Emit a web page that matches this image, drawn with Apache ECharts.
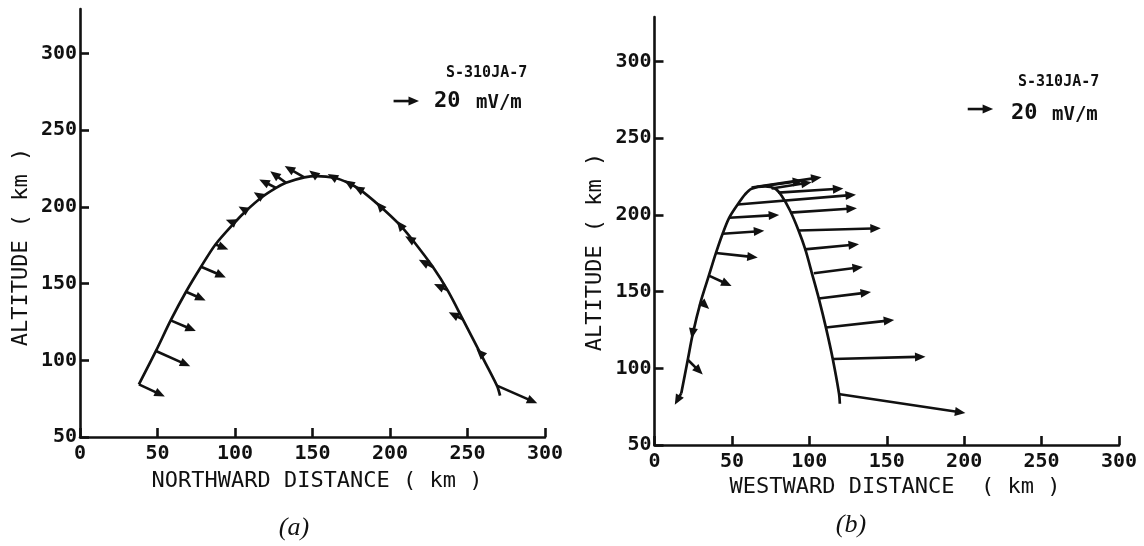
<!DOCTYPE html>
<html><head><meta charset="utf-8">
<script src="https://cdn.jsdelivr.net/npm/echarts@6/dist/echarts.min.js"></script>
<style>html,body{margin:0;padding:0;background:#fff}#c{width:1144px;height:546px}</style>
</head><body><div id="c"></div>
<script>
// ---------- shared ticks ----------
const xTicks = [0, 50, 100, 150, 200, 250, 300];
const yTicks = [50, 100, 150, 200, 250, 300];
const refField = 20;          // mV/m, reference arrow
const KM_PER_MVM = 0.82;      // arrow scale (km of plot per mV/m)

// ---------- panel (a): northward distance ----------
const trajA_x   = [38, 49, 58.5, 68.4, 78.1, 87.4, 99.5, 107.2, 117.3, 126.5, 132.9, 144.7, 152.7, 164.1, 173.2, 180.4, 193.4, 206.5, 215.2, 227.7, 237.1, 247, 258, 269, 271];
const trajA_alt = [84.3, 106.1, 126, 144.7, 161, 175.5, 189.5, 197.5, 206.3, 212.4, 215.7, 219.2, 220.1, 219, 215.6, 211.4, 200.6, 188.1, 177.6, 160.8, 145.7, 126.7, 105.1, 83.5, 77];
const arrA_x    = [38, 49, 58.5, 68.4, 78.1, 87.4, 99.5, 107.2, 117.3, 126.5, 132.9, 144.7, 152.7, 164.1, 173.2, 180.4, 193.4, 206.5, 215.2, 227.7, 237.1, 247, 258, 269];
const arrA_alt  = [84.3, 106.1, 126, 144.7, 161, 175.5, 189.5, 197.5, 206.3, 212.4, 215.7, 219.2, 220.1, 219, 215.6, 211.4, 200.6, 188.1, 177.6, 160.8, 145.7, 126.7, 105.1, 83.5];
const arrA_Ex   = [20.4, 27, 19.8, 15.4, 19.5, 10.1, -6.6, -6, -6.3, -13.2, -12.4, -15.4, -5.9, -5.2, -3.2, -4.5, -2.7, -2.7, -6.6, -11.1, -10.6, -11.1, -2.7, 31.7];
const arrA_Ez   = [-9.6, -12.2, -8.5, -7, -8.5, -3.9, 2.6, 3.4, 3.9, 6.7, 9.1, 9.1, 4.4, 2.9, 2.1, 2.6, 3.2, 3.4, 3.9, 5.7, 4.9, 5.7, 2.7, -14.1];

// ---------- panel (b): westward distance ----------
const trajB_x   = [17.3, 21.5, 24.6, 29.9, 35.1, 39.7, 44, 48.2, 53.7, 58.5, 62.7, 71.4, 77.8, 82.1, 87.6, 93.1, 97.5, 101.9, 106.3, 110.8, 115.2, 119.2, 119.7];
const trajB_alt = [83.8, 105.6, 121.9, 143.6, 160.4, 175.2, 187.7, 198.1, 206.8, 213.4, 217.1, 218.5, 217.2, 212.5, 202.7, 189.7, 177.2, 161.1, 144.8, 126.2, 105.8, 83.4, 76.9];
const arrB_x    = [17.3, 21.5, 25.2, 29.9, 35.1, 39.7, 44, 48.2, 53.7, 62.7, 65.9, 75.6, 80, 87.6, 93.2, 96.9, 102.9, 106, 110.7, 115, 118.7];
const arrB_alt  = [83.8, 105.6, 126.3, 143.6, 160.4, 175.2, 187.7, 198.1, 206.8, 217.8, 218.2, 217.2, 214.5, 201.5, 189.8, 177.5, 162, 145.5, 126.6, 106.1, 83.2];
const arrB_Ex   = [-5.1, 11.8, -1.5, 6.6, 17.9, 32.9, 32.8, 39.4, 93.2, 55.1, 36.8, 31.6, 51.2, 52.6, 64.6, 42.9, 38.7, 41.3, 53.8, 73.2, 100.1];
const arrB_Ez   = [-9.3, -11.8, -8.5, -6, -8.3, -3.7, 2.3, 2.3, 7.8, 8.3, 5, 5, 3.3, 3.5, 1.8, 4.1, 5, 5.1, 6, 1.8, -15.1];

// reference-arrow anchor (data coords, same in both panels)
const refX = 202.3, refAlt = 269;

const INK = '#111';
const MONO = '"DejaVu Sans Mono", monospace';

function zip2(a, b) { return a.map((v, i) => [v, b[i]]); }
function zip4(a, b, c, d) { return a.map((v, i) => [v, b[i], c[i], d[i]]); }

function arrowRender(params, api) {
  const x0 = api.value(0), z0 = api.value(1), ex = api.value(2), ez = api.value(3);
  const p0 = api.coord([x0, z0]);
  const p1 = api.coord([x0 + ex * KM_PER_MVM, z0 + ez * KM_PER_MVM]);
  const dx = p1[0] - p0[0], dy = p1[1] - p0[1];
  const len = Math.hypot(dx, dy) || 1;
  const ux = dx / len, uy = dy / len;
  const L = 10.5, W = 4.5;
  const bx = p1[0] - ux * L, by = p1[1] - uy * L;
  const ch = [];
  if (len > L) ch.push({ type: 'line', shape: { x1: p0[0], y1: p0[1], x2: bx + ux * 2, y2: by + uy * 2 },
                         style: { stroke: INK, lineWidth: 2.6 } });
  ch.push({ type: 'polygon', shape: { points: [[p1[0], p1[1]], [bx - uy * W, by + ux * W], [bx + uy * W, by - ux * W]] },
            style: { fill: INK } });
  return { type: 'group', children: ch };
}

function arrowSeries(idx, data) {
  return { type: 'custom', xAxisIndex: idx, yAxisIndex: idx, data: data, clip: false, silent: true,
           dimensions: ['x', 'alt', 'ex', 'ez'], encode: { x: 0, y: 1 }, renderItem: arrowRender };
}
function trajSeries(idx, data) {
  return { type: 'line', xAxisIndex: idx, yAxisIndex: idx, data: data, smooth: 0.3, symbol: 'none', silent: true,
           lineStyle: { color: INK, width: 2.7 } };
}

function xAx(idx) {
  return { type: 'value', gridIndex: idx, min: 0, max: 300, interval: 50,
    axisLine: { show: true, onZero: false, lineStyle: { color: INK, width: 2.6 } },
    axisTick: { show: true, inside: true, length: 9, customValues: xTicks, lineStyle: { color: INK, width: 2.6 } },
    axisLabel: { customValues: xTicks, color: INK, fontFamily: MONO, fontWeight: 'bold', fontSize: 20, margin: 7 },
    splitLine: { show: false } };
}
function yAx(idx) {
  return { type: 'value', gridIndex: idx, min: 50, max: 329,
    axisLine: { show: true, onZero: false, lineStyle: { color: INK, width: 2.6 } },
    axisTick: { show: true, inside: true, length: 9, customValues: yTicks, lineStyle: { color: INK, width: 2.6 } },
    axisLabel: { customValues: yTicks, color: INK, fontFamily: MONO, fontWeight: 'bold', fontSize: 20, margin: 3 },
    splitLine: { show: false } };
}

function txt(x, y, text, font, align, rot) {
  return { type: 'text', x: x, y: y, rotation: rot || 0, silent: true,
    style: { text: text, font: font, fill: INK, align: align || 'left', verticalAlign: 'middle',
             textAlign: align || 'left', textVerticalAlign: 'middle' } };
}

const chart = echarts.init(document.getElementById('c'), null, { renderer: 'canvas' });
chart.setOption({
  animation: false,
  backgroundColor: '#fff',
  grid: [
    { left: 80, top: 9, width: 465, height: 428 },
    { left: 654.5, top: 17, width: 464.5, height: 428 }
  ],
  xAxis: [xAx(0), xAx(1)],
  yAxis: [yAx(0), yAx(1)],
  series: [
    trajSeries(0, zip2(trajA_x, trajA_alt)),
    arrowSeries(0, zip4(arrA_x, arrA_alt, arrA_Ex, arrA_Ez)),
    arrowSeries(0, [[refX, refAlt, refField, 0]]),
    trajSeries(1, zip2(trajB_x, trajB_alt)),
    arrowSeries(1, zip4(arrB_x, arrB_alt, arrB_Ex, arrB_Ez)),
    arrowSeries(1, [[refX, refAlt, refField, 0]])
  ],
  graphic: [
    txt(21, 247, 'ALTITUDE ( km )', '22px ' + MONO, 'center', Math.PI / 2),
    txt(317, 481, 'NORTHWARD DISTANCE ( km )', '22px ' + MONO, 'center'),
    txt(446, 73, 'S-310JA-7', 'bold 15px ' + MONO, 'left'),
    txt(434, 101, '20', 'bold 22px ' + MONO, 'left'),
    txt(476, 103, 'mV/m', 'bold 19px ' + MONO, 'left'),
    txt(294, 528, '(a)', 'italic 26px "Liberation Serif", serif', 'center'),

    txt(595, 252, 'ALTITUDE ( km )', '22px ' + MONO, 'center', Math.PI / 2),
    txt(895, 487, 'WESTWARD DISTANCE  ( km )', '22px ' + MONO, 'center'),
    txt(1018, 82, 'S-310JA-7', 'bold 15px ' + MONO, 'left'),
    txt(1011, 113, '20', 'bold 22px ' + MONO, 'left'),
    txt(1052, 115, 'mV/m', 'bold 19px ' + MONO, 'left'),
    txt(851, 525, '(b)', 'italic 26px "Liberation Serif", serif', 'center')
  ]
});
</script></body></html>
